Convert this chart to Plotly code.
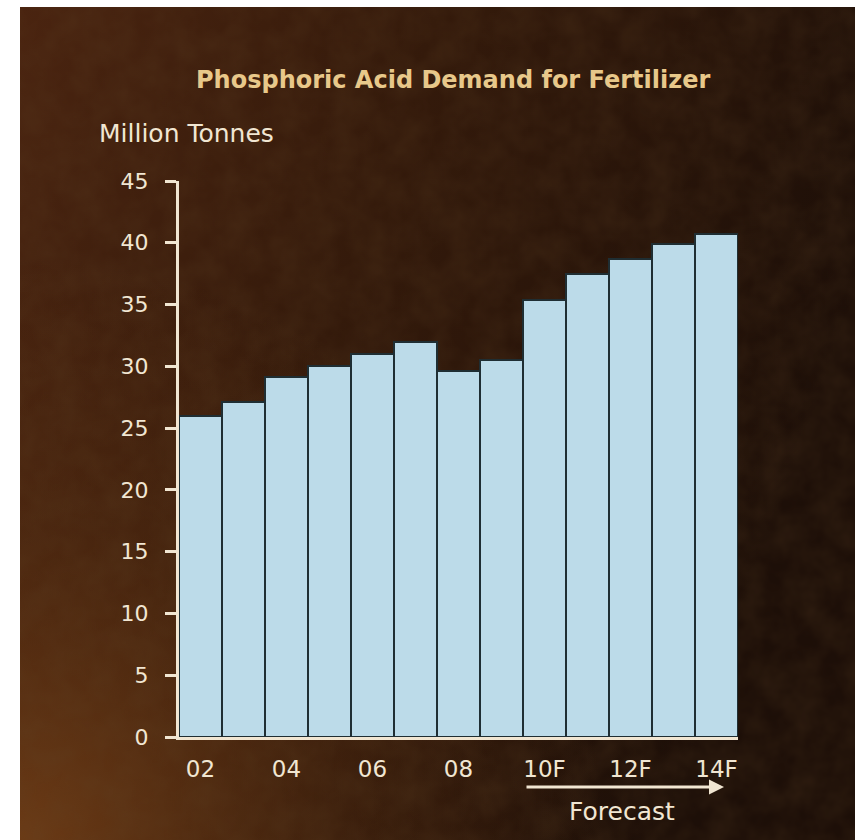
import base64
import plotly.graph_objects as go

W, H = 855, 840

# Phosphoric acid demand for fertilizer, million tonnes (F = forecast)
years = ["02", "03", "04", "05", "06", "07", "08", "09",
         "10F", "11F", "12F", "13F", "14F"]
demand = [26.0, 27.1, 29.1, 30.0, 31.0, 32.0, 29.6, 30.5,
          35.4, 37.5, 38.7, 39.9, 40.7]
tick_labels = ["02", "04", "06", "08", "10F", "12F", "14F"]
y_ticks = [0, 5, 10, 15, 20, 25, 30, 35, 40, 45]

CREAM = "#f1e6d2"
GOLD = "#e8c88a"
BAR = "#bcdbe9"
BAR_EDGE = "#1f2e33"
FONT = "DejaVu Sans"


def px_x(p):
    return p / W


def px_y(p):
    return 1 - p / H


# dark leather-like backdrop: brown glow at lower left fading to near black
svg = """<svg xmlns='http://www.w3.org/2000/svg' width='835' height='833' viewBox='0 0 835 833' preserveAspectRatio='none'>
<defs>
<linearGradient id='g' x1='0' y1='0' x2='1' y2='0.35'>
<stop offset='0' stop-color='#4a2410'/>
<stop offset='0.45' stop-color='#341a0b'/>
<stop offset='1' stop-color='#1d0f08'/>
</linearGradient>
<radialGradient id='r' cx='0.0' cy='1.0' r='0.7'>
<stop offset='0' stop-color='#6e3c16' stop-opacity='0.95'/>
<stop offset='0.55' stop-color='#5e3212' stop-opacity='0.35'/>
<stop offset='1' stop-color='#5e3212' stop-opacity='0'/>
</radialGradient>
<filter id='n'>
<feTurbulence type='fractalNoise' baseFrequency='0.035' numOctaves='3' seed='4'/>
<feColorMatrix type='matrix' values='0 0 0 0 0.12  0 0 0 0 0.06  0 0 0 0 0.02  0 0 0 0.55 -0.12'/>
</filter>
</defs>
<rect width='835' height='833' fill='url(#g)'/>
<rect width='835' height='833' fill='url(#r)'/>
<rect width='835' height='833' filter='url(#n)' opacity='0.6'/>
</svg>"""
bg_src = "data:image/svg+xml;base64," + base64.b64encode(svg.encode()).decode()

fig = go.Figure(
    go.Bar(
        x=years,
        y=demand,
        marker=dict(color=BAR, line=dict(color=BAR_EDGE, width=2)),
        hoverinfo="x+y",
    )
)

fig.update_layout(
    width=W,
    height=H,
    margin=dict(l=0, r=0, t=0, b=0, pad=0, autoexpand=False),
    paper_bgcolor="white",
    plot_bgcolor="rgba(0,0,0,0)",
    bargap=0,
    showlegend=False,
    images=[dict(
        source=bg_src, xref="paper", yref="paper",
        x=px_x(20), y=px_y(7), sizex=835 / W, sizey=833 / H,
        xanchor="left", yanchor="top", sizing="stretch", layer="below",
    )],
    xaxis=dict(
        domain=[px_x(179), px_x(738)],
        type="category",
        range=[-0.5, len(years) - 0.5],
        showline=True, linecolor=CREAM, linewidth=3,
        showgrid=False, zeroline=False,
        ticks="",
        tickvals=tick_labels, ticktext=tick_labels,
        tickfont=dict(family=FONT, size=23, color=CREAM),
        ticklabelstandoff=9,
    ),
    yaxis=dict(
        domain=[px_y(737), px_y(181)],
        range=[0, 45],
        showline=True, linecolor=CREAM, linewidth=3,
        showgrid=False, zeroline=False,
        ticks="outside", ticklen=11, tickwidth=3, tickcolor=CREAM,
        tickvals=y_ticks,
        tickfont=dict(family=FONT, size=22, color=CREAM),
        ticklabelstandoff=12,
    ),
    annotations=[
        dict(text="<b>Phosphoric Acid Demand for Fertilizer</b>",
             xref="paper", yref="paper", x=px_x(453), y=px_y(80),
             xanchor="center", yanchor="middle", showarrow=False,
             font=dict(family=FONT, size=24, color=GOLD)),
        dict(text="Million Tonnes",
             xref="paper", yref="paper", x=px_x(97), y=px_y(133),
             xanchor="left", yanchor="middle", showarrow=False,
             font=dict(family=FONT, size=25, color=CREAM)),
        dict(text="", xref="paper", yref="paper",
             x=px_x(724), y=px_y(787), axref="pixel", ayref="pixel",
             ax=-199, ay=0, showarrow=True, arrowhead=2, arrowsize=1,
             arrowwidth=3, arrowcolor=CREAM),
        dict(text="Forecast",
             xref="paper", yref="paper", x=px_x(622), y=px_y(811),
             xanchor="center", yanchor="middle", showarrow=False,
             font=dict(family=FONT, size=25, color=CREAM)),
    ],
)

fig.write_html("out.html")
